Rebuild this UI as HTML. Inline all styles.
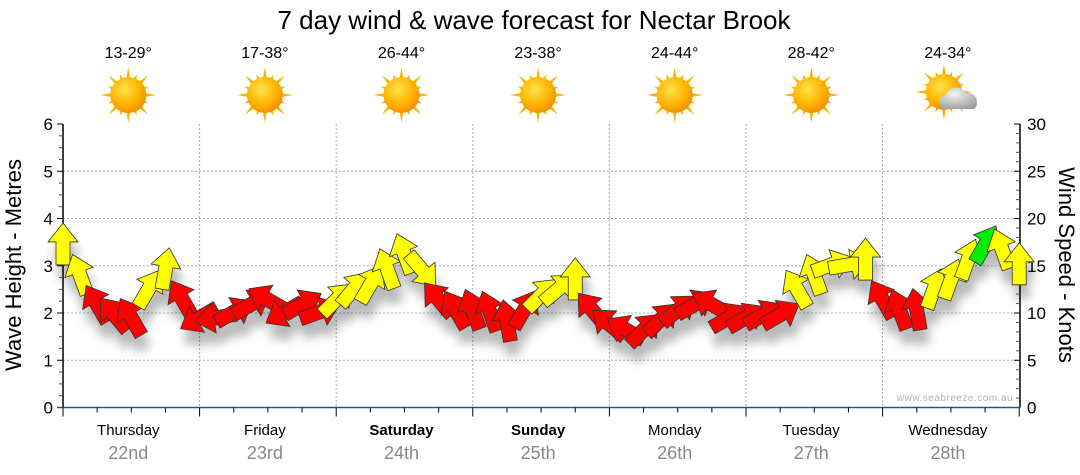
<!DOCTYPE html>
<html><head><meta charset="utf-8">
<style>
body{margin:0;background:#fff;width:1080px;height:475px;overflow:hidden;font-family:"Liberation Sans",sans-serif;}
svg{display:block}
</style></head>
<body>
<svg id="chart" width="1080" height="475" viewBox="0 0 1080 475">
<defs>
<filter id="shadow" x="-20%" y="-20%" width="140%" height="160%">
<feGaussianBlur in="SourceAlpha" stdDeviation="5"/>
<feOffset dx="3" dy="14" result="b"/>
<feComponentTransfer><feFuncA type="linear" slope="0.28"/></feComponentTransfer>
<feMerge><feMergeNode/><feMergeNode in="SourceGraphic"/></feMerge>
</filter>
<radialGradient id="sunG" cx="0.4" cy="0.35" r="0.7">
<stop offset="0" stop-color="#ffe34a"/><stop offset="0.6" stop-color="#ffb300"/><stop offset="1" stop-color="#f08a00"/>
</radialGradient>
<radialGradient id="cloudG" cx="0.4" cy="0.3" r="0.8">
<stop offset="0" stop-color="#f2f2f2"/><stop offset="1" stop-color="#9a9a9a"/>
</radialGradient>
</defs>
<text x="534" y="29" text-anchor="middle" font-size="26" fill="#000">7 day wind &amp; wave forecast for Nectar Brook</text>
<g id="header"></g>
<g id="grid"></g>
<g id="axes"></g>
<g id="marks" filter="url(#shadow)"></g>
<text x="955" y="401" text-anchor="middle" font-size="10" fill="#a9b3c4" letter-spacing="0.5">www.seabreeze.com.au</text>
<text transform="translate(21,265) rotate(-90)" text-anchor="middle" font-size="22" fill="#000">Wave Height - Metres</text>
<text transform="translate(1059,265) rotate(90)" text-anchor="middle" font-size="22" fill="#000">Wind Speed - Knots</text>
</svg>
<script>
const days = ["Thursday","Friday","Saturday","Sunday","Monday","Tuesday","Wednesday"];
const dates = ["22nd","23rd","24th","25th","26th","27th","28th"];
const boldDays = [false,false,true,true,false,false,false];
const temps = ["13-29°","17-38°","26-44°","23-38°","24-44°","28-42°","24-34°"];
const cloudy = [false,false,false,false,false,false,true];
const waveTicks = [0,1,2,3,4,5,6];
const windTicks = [0,5,10,15,20,25,30];
// 3-hourly wind speed (knots)
const windSpeed = [17.2,14,10.9,9.8,9.5,12.5,14.6,11.4,
 9.5,9.5,10.1,10.9,11.4,10.1,10.9,10.1,
 11.4,12.5,13,14.6,16.2,14.6,11.4,10.3,
 10.3,10.1,9.1,10.3,11.9,12.5,13.5,10.3,
 8.8,8.2,8.2,9.3,10.3,10.9,10.9,9.5,
 9.5,9.8,9.8,12.5,14,15.1,15.1,15.6,
 11.4,10.3,10.3,12.5,13.5,15.6,17.2,16.7,15.1];
// arrow pointing direction (degrees clockwise from up)
const windDir = [0,-20,-30,-40,-30,30,10,-30,
 -120,-100,60,60,-60,-120,60,70,
 45,40,30,-20,-20,140,-40,-30,
 -20,-20,-10,30,45,50,0,-40,
 -50,-60,45,45,50,60,-60,60,
 60,60,60,-30,-20,70,80,0,
 -30,-20,-10,20,20,20,30,-20,0];
const windCat = ["y","y","r","r","r","y","y","r",
 "r","r","r","r","r","r","r","r",
 "y","y","y","y","y","y","r","r",
 "r","r","r","r","y","y","y","r",
 "r","r","r","r","r","r","r","r",
 "r","r","r","y","y","y","y","y",
 "r","r","r","y","y","y","g","y","y"];

const NS="http://www.w3.org/2000/svg";
const X0=63, DAYW=136.6, Y0=407.5, Y1=124;
const xDay = d => X0 + d*DAYW;
const xStep = i => X0 + i*DAYW/8;
const yWave = v => Y0 - (v/6)*(Y0-Y1);
const yWind = v => Y0 - (v/30)*(Y0-Y1);
const colors={r:"#ff0000",y:"#ffff00",g:"#00ee00"};
function mk(tag,attrs,parent){const e=document.createElementNS(NS,tag);for(const k in attrs)e.setAttribute(k,attrs[k]);parent.appendChild(e);return e;}
const grid=document.getElementById('grid'), axes=document.getElementById('axes'), header=document.getElementById('header'), marks=document.getElementById('marks');

waveTicks.forEach(v=>{ if(v>0&&v<6){const l=mk('line',{x1:X0,x2:1020,y1:yWave(v),y2:yWave(v),stroke:'#aaa','stroke-dasharray':'2,2'},grid);

}});
for(let d=1;d<7;d++){const l=mk('line',{x1:xDay(d),x2:xDay(d),y1:Y1,y2:Y0,stroke:'#aaa','stroke-dasharray':'2,2'},grid);

}

mk('line',{x1:X0,x2:X0,y1:Y1,y2:Y0,stroke:'#000','stroke-width':1.5},axes);
for(let v=0;v<=6;v+=0.25){const y=yWave(v);const major=Number.isInteger(v);mk('line',{x1:major?X0-6:X0-4,x2:X0,y1:y,y2:y,stroke:major?'#000':'#555'},axes);}
waveTicks.forEach(v=>{const t=mk('text',{x:X0-10,y:yWave(v)+6,'text-anchor':'end','font-size':17,fill:'#000'},axes);t.textContent=v;

});
mk('line',{x1:1020,x2:1020,y1:Y1,y2:Y0,stroke:'#000','stroke-width':1.5},axes);
for(let v=0;v<=30;v+=1){const y=yWind(v);const major=v%5===0;mk('line',{x1:1020,x2:major?1014:1016,y1:y,y2:y,stroke:major?'#000':'#555'},axes);}
windTicks.forEach(v=>{const t=mk('text',{x:1027,y:yWind(v)+6,'font-size':17,fill:'#000'},axes);t.textContent=v;

});
mk('line',{x1:X0-6,x2:1020,y1:Y0,y2:Y0,stroke:'#1a5a8a','stroke-width':1.5},axes);
for(let i=0;i<=28;i++){const x=X0+i*DAYW/4;mk('line',{x1:x,x2:x,y1:Y0,y2:Y0+(i%4===0?9:5),stroke:'#000'},axes);}
days.forEach((d,i)=>{const cx=xDay(i)+DAYW/2;
 const t=mk('text',{x:cx-3,y:435,'text-anchor':'middle','font-size':15,fill:'#000','font-weight':boldDays[i]?'bold':'normal'},axes);t.textContent=d;
 
 
 const t2=mk('text',{x:cx-3,y:459,'text-anchor':'middle','font-size':18,fill:'#888'},axes);t2.textContent=dates[i];
 
 
 const t3=mk('text',{x:cx-3,y:58,'text-anchor':'middle','font-size':16,fill:'#000'},header);t3.textContent=temps[i];
 
 
 const g=mk('g',{transform:`translate(${cx-3},${95})`},header);
 
 
 const sx=cloudy[i]?-4:0, sy=cloudy[i]?-3:0;
 for(let k=0;k<16;k++){const a=k*Math.PI/8;const L=(k%2===0)?28:22;
  const p1=[sx+Math.cos(a-0.13)*16,sy+Math.sin(a-0.13)*16],p2=[sx+Math.cos(a)*L,sy+Math.sin(a)*L],p3=[sx+Math.cos(a+0.13)*16,sy+Math.sin(a+0.13)*16];
  mk('polygon',{points:`${p1} ${p2} ${p3}`,fill:'#f5b800'},g);}
 mk('circle',{cx:sx,cy:sy,r:18,fill:'url(#sunG)'},g);
 if(cloudy[i]){mk('path',{d:'M-6,14 a8,8 0 0 1 4,-14 a11,11 0 0 1 20,-2 a9,9 0 0 1 11,9 a7,7 0 0 1 -3,7 z',fill:'url(#cloudG)'},g);}
});

windSpeed.forEach((v,i)=>{
 const x=xStep(i), y=yWind(v);
 const p=mk('polygon',{points:'0,-22 15,-3 7,-3 7,20 -7,20 -7,-3 -15,-3',
  fill:colors[windCat[i]],stroke:'#333','stroke-width':0.8,'stroke-linejoin':'miter',
  transform:`translate(${x},${y}) rotate(${windDir[i]})`},marks);
 
 
});
</script>
</body></html>
